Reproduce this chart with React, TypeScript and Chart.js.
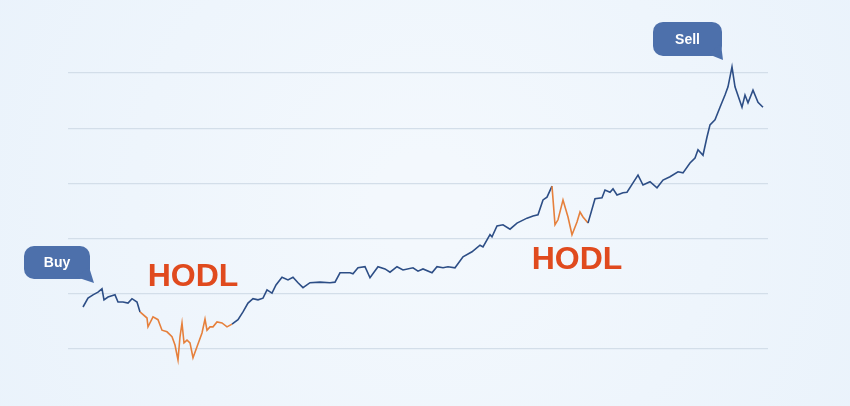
import { useEffect, useRef } from "react"
import { Chart, registerables } from "chart.js"

Chart.register(...registerables)

// days since first grid column, price in $k
const days = [
  15, 20, 25, 30, 34, 36, 40, 47, 50, 55, 60, 64, 69, 72, 79, 80, 85, 90, 94, 99,
  104, 107, 110, 112, 114, 116, 119, 122, 125, 129, 134, 137, 139, 142, 145, 149, 154, 159, 164, 170,
  175, 180, 185, 190, 195, 199, 204, 208, 214, 220, 225, 230, 235, 242, 252, 262, 267, 272, 282, 285,
  290, 297, 302, 310, 317, 322, 329, 335, 345, 350, 355, 364, 369, 375, 380, 387, 395, 404, 412, 415,
  422, 424, 429, 435, 442, 449, 459, 465, 470, 475, 479, 484, 487, 490, 495, 500, 504, 509, 512, 515,
  520, 527, 534, 537, 542, 545, 549, 555, 559, 565, 570, 575, 582, 589, 595, 602, 610, 615, 622, 627,
  630, 635, 639, 642, 647, 652, 657, 660, 664, 667, 674, 677, 680, 685, 690, 695,
]
const price = [
  17.6, 19.2, 19.8, 20.3, 20.9, 18.9, 19.4, 19.8, 18.5, 18.5, 18.3, 19.1, 18.5, 16.7, 15.6, 14.0, 15.8, 15.3, 13.4, 13.1,
  12.2, 10.7, 8.0, 12.2, 14.7, 11.1, 11.6, 11.1, 8.4, 10.4, 12.9, 15.4, 13.4, 14.0, 14.0, 14.9, 14.7, 14.0, 14.5, 15.3,
  16.7, 18.3, 19.1, 18.9, 19.2, 20.7, 20.1, 21.6, 23.0, 22.5, 23.0, 22.0, 21.1, 22.0, 22.1, 22.0, 22.1, 23.8, 23.8, 23.6,
  24.7, 24.9, 22.9, 24.9, 24.5, 23.9, 24.9, 24.3, 24.7, 24.1, 24.5, 23.8, 24.9, 24.7, 24.9, 24.7, 26.7, 27.6, 28.8, 28.5,
  30.7, 30.3, 32.3, 32.5, 31.7, 32.8, 33.7, 34.1, 34.3, 37.0, 37.5, 39.5, 32.5, 33.4, 37.0, 33.9, 30.7, 33.0, 34.8, 33.9,
  32.8, 37.2, 37.4, 38.8, 38.4, 39.0, 37.9, 38.3, 38.4, 40.1, 41.5, 39.7, 40.3, 39.2, 40.6, 41.2, 42.1, 41.9, 43.7, 44.6,
  46.1, 45.1, 48.4, 50.6, 51.5, 53.8, 56.0, 57.5, 61.1, 57.5, 53.8, 56.0, 54.6, 56.9, 54.7, 53.8,
]
const gridTicks = [10, 20, 30, 40, 50, 60]
const hodlRanges = [
  [72, 167],
  [484, 520],
]
const hodlLabels = [
  { day: 125, price: 23.0 },
  { day: 509, price: 26.1 },
]

const BLUE = "#2d4e86"
const ORANGE = "#e6803c"
const BUBBLE = "#4d70ab"

function inHodl(a: number, b: number) {
  return hodlRanges.some(([s, e]) => a >= s && b <= e)
}

function bubble(
  ctx: CanvasRenderingContext2D,
  x: number,
  y: number,
  w: number,
  h: number,
  tipX: number,
  tipY: number,
  text: string
) {
  const r = 10
  ctx.save()
  ctx.fillStyle = BUBBLE
  ctx.beginPath()
  ctx.roundRect(x, y, w, h, r)
  ctx.fill()
  // tail at bottom-right corner
  ctx.beginPath()
  ctx.moveTo(x + w - 14, y + h - 2)
  ctx.lineTo(tipX, tipY)
  ctx.lineTo(x + w - 1, y + h - 12)
  ctx.closePath()
  ctx.fill()
  ctx.fillStyle = "#ffffff"
  ctx.font = "bold 14px 'Liberation Sans', Arial, sans-serif"
  ctx.textAlign = "center"
  ctx.textBaseline = "middle"
  ctx.fillText(text, x + w / 2, y + h / 2 + 1)
  ctx.restore()
}

const annotations = {
  id: "annotations",
  afterDatasetsDraw(chart: Chart) {
    const { ctx, scales } = chart
    const xs = scales.x
    const ys = scales.y

    ctx.save()
    ctx.fillStyle = "#e04a1e"
    ctx.font = "bold 32px 'Liberation Sans', Arial, sans-serif"
    ctx.textAlign = "center"
    ctx.textBaseline = "middle"
    hodlLabels.forEach((l) => {
      ctx.fillText("HODL", xs.getPixelForValue(l.day), ys.getPixelForValue(l.price))
    })
    ctx.restore()

    // Buy at first point, Sell at the peak
    const bx = xs.getPixelForValue(days[0])
    const by = ys.getPixelForValue(price[0])
    bubble(ctx, bx - 59, by - 61, 66, 33, bx + 11, by - 24, "Buy")

    const peak = price.indexOf(Math.max(...price))
    const sx = xs.getPixelForValue(days[peak])
    const sy = ys.getPixelForValue(price[peak])
    bubble(ctx, sx - 79, sy - 45, 69, 34, sx - 9, sy - 7, "Sell")
  },
}

const background = {
  id: "background",
  beforeDraw(chart: Chart) {
    const { ctx, width, height } = chart
    ctx.save()
    const g = ctx.createRadialGradient(width / 2, height / 2, 50, width / 2, height / 2, width / 1.6)
    g.addColorStop(0, "#f3f8fd")
    g.addColorStop(1, "#e9f2fb")
    ctx.fillStyle = g
    ctx.fillRect(0, 0, width, height)
    ctx.restore()
  },
}

export default function App() {
  const chartRef = useRef<HTMLCanvasElement>(null)
  const chartInstance = useRef<Chart | null>(null)

  useEffect(() => {
    if (!chartRef.current) return
    if (chartInstance.current) chartInstance.current.destroy()

    chartInstance.current = new Chart(chartRef.current, {
      type: "line",
      data: {
        datasets: [
          {
            data: days.map((d, i) => ({ x: d, y: price[i] })),
            borderColor: BLUE,
            borderWidth: 1.6,
            pointRadius: 0,
            tension: 0,
            clip: false,
            segment: {
              borderColor: (c: any) => (inHodl(c.p0.parsed.x, c.p1.parsed.x) ? ORANGE : BLUE),
            },
          },
        ],
      },
      options: {
        animation: false,
        responsive: false,
        maintainAspectRatio: false,
        layout: { padding: { top: 73, left: 68, right: 82, bottom: 35 } },
        plugins: { legend: { display: false }, tooltip: { enabled: false } },
        scales: {
          x: { type: "linear", min: 0, max: 700, display: false },
          y: {
            min: 6,
            max: 60,
            afterBuildTicks: (axis: any) => {
              axis.ticks = gridTicks.map((v) => ({ value: v }))
            },
            ticks: { display: false },
            border: { display: false },
            grid: { color: "#d3dee9", lineWidth: 1.2, drawTicks: false },
          },
        },
      },
      plugins: [background, annotations],
    })

    return () => {
      if (chartInstance.current) chartInstance.current.destroy()
    }
  }, [])

  return (
    <div style={{ position: "absolute", left: 0, top: 0, width: 850, height: 406 }}>
      <canvas ref={chartRef} width={850} height={406} />
    </div>
  )
}
